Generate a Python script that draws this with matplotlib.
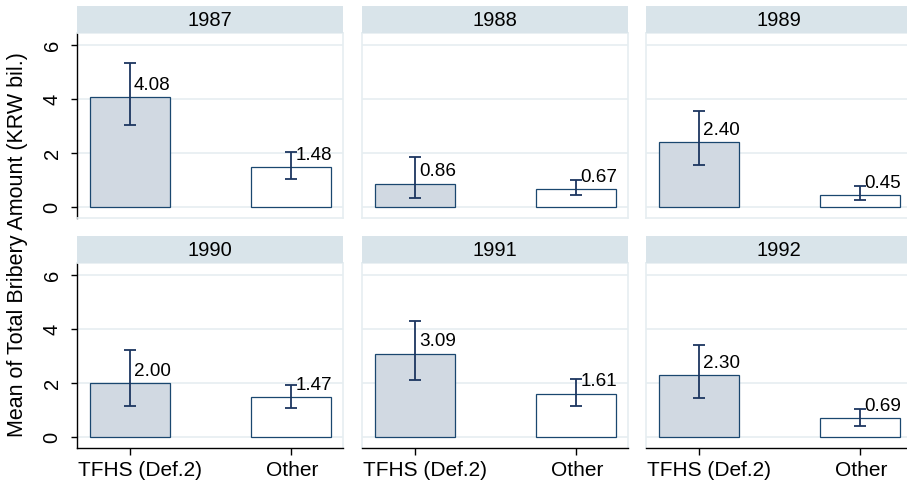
import matplotlib
matplotlib.use("Agg")
import matplotlib.pyplot as plt

plt.rcParams['font.family'] = ['Liberation Sans', 'DejaVu Sans']

# group means and 95% confidence bounds by year
years = [1987, 1988, 1989, 1990, 1991, 1992]
groups = ["TFHS (Def.2)", "Other"]
tfhs_mean = [4.08, 0.86, 2.40, 2.00, 3.09, 2.30]
tfhs_lo = [3.05, 0.32, 1.55, 1.15, 2.12, 1.44]
tfhs_hi = [5.33, 1.86, 3.56, 3.23, 4.30, 3.42]
other_mean = [1.48, 0.67, 0.45, 1.47, 1.61, 0.69]
other_lo = [1.05, 0.43, 0.26, 1.06, 1.16, 0.41]
other_hi = [2.02, 1.00, 0.78, 1.93, 2.14, 1.05]
yticks = [0, 2, 4, 6]

W, H = 907, 488
navy = "#1a476f"
err_col = "#1c3660"
grid_col = "#e6eef1"
strip_col = "#d9e4ea"
fills = ["#d1d9e2", "white"]
label_shift = [7, 1]   # horizontal nudge of group labels, points

fig = plt.figure(figsize=(W / 100, H / 100), dpi=100)

col_left = [77, 362, 646]
panel_w = 266
row_top = [33, 263]   # top of plot region (pixels)
panel_h = 185
strip_h = 27

for k, yr in enumerate(years):
    r, c = divmod(k, 3)
    x0 = col_left[c]
    y0 = row_top[r]
    ax = fig.add_axes([x0 / W, 1 - (y0 + panel_h) / H, panel_w / W, panel_h / H])
    st = fig.add_axes([x0 / W, 1 - y0 / H, panel_w / W, strip_h / H])
    st.set_facecolor(strip_col)
    st.set_xticks([])
    st.set_yticks([])
    for s in st.spines.values():
        s.set_visible(False)
    st.text(0.5, 0.45, str(yr), ha="center", va="center", fontsize=14.5,
            transform=st.transAxes)

    means = [tfhs_mean[k], other_mean[k]]
    lo = [tfhs_lo[k], other_lo[k]]
    hi = [tfhs_hi[k], other_hi[k]]
    xs = [0, 1]

    for yv in yticks:
        ax.axhline(yv, color=grid_col, lw=1.2, zorder=0)
    ax.bar(xs, means, width=0.494, color=fills, edgecolor=navy, linewidth=0.9, zorder=2)
    ax.errorbar(xs, means,
                yerr=[[m - l for m, l in zip(means, lo)], [h - m for m, h in zip(means, hi)]],
                fmt="none", ecolor=err_col, elinewidth=1.3, capsize=4, capthick=1.3, zorder=3)
    for xv, m in zip(xs, means):
        ax.annotate(f"{m:.2f}", (xv, m), xytext=(3, 8.5), textcoords="offset points",
                    ha="left", va="center", fontsize=13.6, zorder=4, annotation_clip=False)

    ax.set_xlim(-0.327, 1.321)
    ax.set_ylim(-0.407, 6.444)

    for s in ax.spines.values():
        s.set_color(grid_col)
        s.set_linewidth(1.2)

    if c == 0:
        ax.spines["left"].set_color("black")
        ax.spines["left"].set_linewidth(1.0)
        ax.set_yticks(yticks)
        ax.set_yticklabels([str(t) for t in yticks], rotation=90, va="center", fontsize=14.5)
        ax.tick_params(axis="y", length=4, width=1, pad=7)
    else:
        ax.set_yticks([])

    if r == 1:
        ax.spines["bottom"].set_color("black")
        ax.spines["bottom"].set_linewidth(1.0)
        ax.set_xticks(xs)
        ax.set_xticklabels([])
        ax.tick_params(axis="x", length=5, width=1)
        for xv, g, dx in zip(xs, groups, label_shift):
            ax.annotate(g, (xv, 0), xycoords=("data", "axes fraction"),
                        xytext=(dx, -9), textcoords="offset points",
                        ha="center", va="top", fontsize=15, annotation_clip=False)
    else:
        ax.set_xticks([])

fig.text(18 / W, 1 - 245 / H, "Mean of Total Bribery Amount (KRW bil.)", rotation=90,
         ha="center", va="center", fontsize=15.5)

fig.savefig("out.png", dpi=100)
